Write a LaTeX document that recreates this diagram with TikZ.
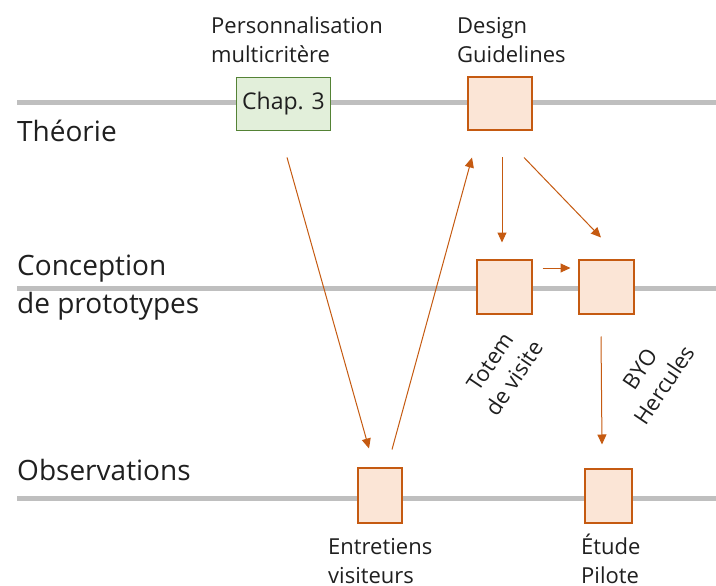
\documentclass[tikz,border=0pt]{standalone}
\usepackage{fontspec}
\setmainfont{Open Sans}
\usetikzlibrary{arrows.meta}
\definecolor{trackgray}{HTML}{BFBFBF}
\definecolor{protoorange}{HTML}{C55A11}
\definecolor{protofill}{HTML}{FBE5D6}
\definecolor{chapgreen}{HTML}{548235}
\definecolor{chapfill}{HTML}{E2EFDA}
\definecolor{ink}{HTML}{1F1F1F}
\begin{document}
\begin{tikzpicture}[x=1pt, y=-1pt,
  track/.style={line width=5pt, trackgray},
  protobox/.style={draw=protoorange, fill=protofill, line width=2pt, inner sep=0pt},
  chapbox/.style={draw=chapgreen, fill=chapfill, line width=1.8pt, inner sep=0pt,
    text=ink, font=\fontsize{23}{27}\selectfont},
  flow/.style={protoorange, line width=1pt, -{Triangle[length=10pt,width=9pt]}},
  lbl/.style={text=ink, align=left, inner sep=0pt, font=\fontsize{22}{29}\selectfont},
  turned/.style={text=ink, align=center, inner sep=0pt, rotate=56, font=\fontsize{22}{29}\selectfont},
  level/.style={text=ink, align=left, inner sep=0pt, font=\fontsize{28}{38}\selectfont}]
  \useasboundingbox (0,0) rectangle (716,586);
  % niveaux
  \draw[track] (17,103) -- (716,103);
  \draw[track] (17,288) -- (716,288);
  \draw[track] (17,498) -- (716,498);
  \node[level, anchor=base west] (theorie) at (17,142) {Théorie};
  \node[level, anchor=base west] (conception) at (17,313) {Conception\\de prototypes};
  \node[level, anchor=base west] (observations) at (17,480) {Observations};
  % boites
  \node[chapbox, minimum width=94pt, minimum height=53pt] (chap) at (283.5,104) {Chap. 3};
  \node[protobox, minimum width=64pt, minimum height=53pt] (design) at (499.5,104) {};
  \node[protobox, minimum width=55pt, minimum height=54pt] (totem) at (504,286.5) {};
  \node[protobox, minimum width=55pt, minimum height=54pt] (byo) at (606,286.5) {};
  \node[protobox, minimum width=44pt, minimum height=55pt] (entretiens) at (379.5,495) {};
  \node[protobox, minimum width=47pt, minimum height=54pt] (etude) at (608.5,495.5) {};
  % etiquettes
  \node[lbl, anchor=base west] (perso) at (211,63) {Personnalisation\\multicritère};
  \node[lbl, anchor=base west] (guide) at (457,63) {Design\\Guidelines};
  \node[lbl, anchor=base west] (entlbl) at (328,583) {Entretiens\\visiteurs};
  \node[lbl, anchor=base west] (etulbl) at (581,583) {Étude\\Pilote};
  \node[turned] (totlbl) at (502,370) {Totem\\de visite};
  \node[turned] (byolbl) at (652,377) {BYO\\Hercules};
  % fleches
  \draw[flow] ([shift={(3.5,26)}]chap.south) -- ([shift={(-10.5,-18)}]entretiens.north);
  \draw[flow] ([shift={(12.5,-17)}]entretiens.north) -- ([shift={(-27.5,26)}]design.south);
  \draw[flow] ([shift={(2.5,26)}]design.south) -- ([shift={(-2,-16)}]totem.north);
  \draw[flow] ([shift={(24.5,26)}]design.south) -- ([shift={(-5,-21)}]byo.north);
  \draw[flow] ([shift={(10,-18.5)}]totem.east) -- ([shift={(-7,-18.5)}]byo.west);
  \draw[flow] ([shift={(-5,22)}]byo.south) -- ([shift={(-6.5,-23)}]etude.north);
\end{tikzpicture}
\end{document}
